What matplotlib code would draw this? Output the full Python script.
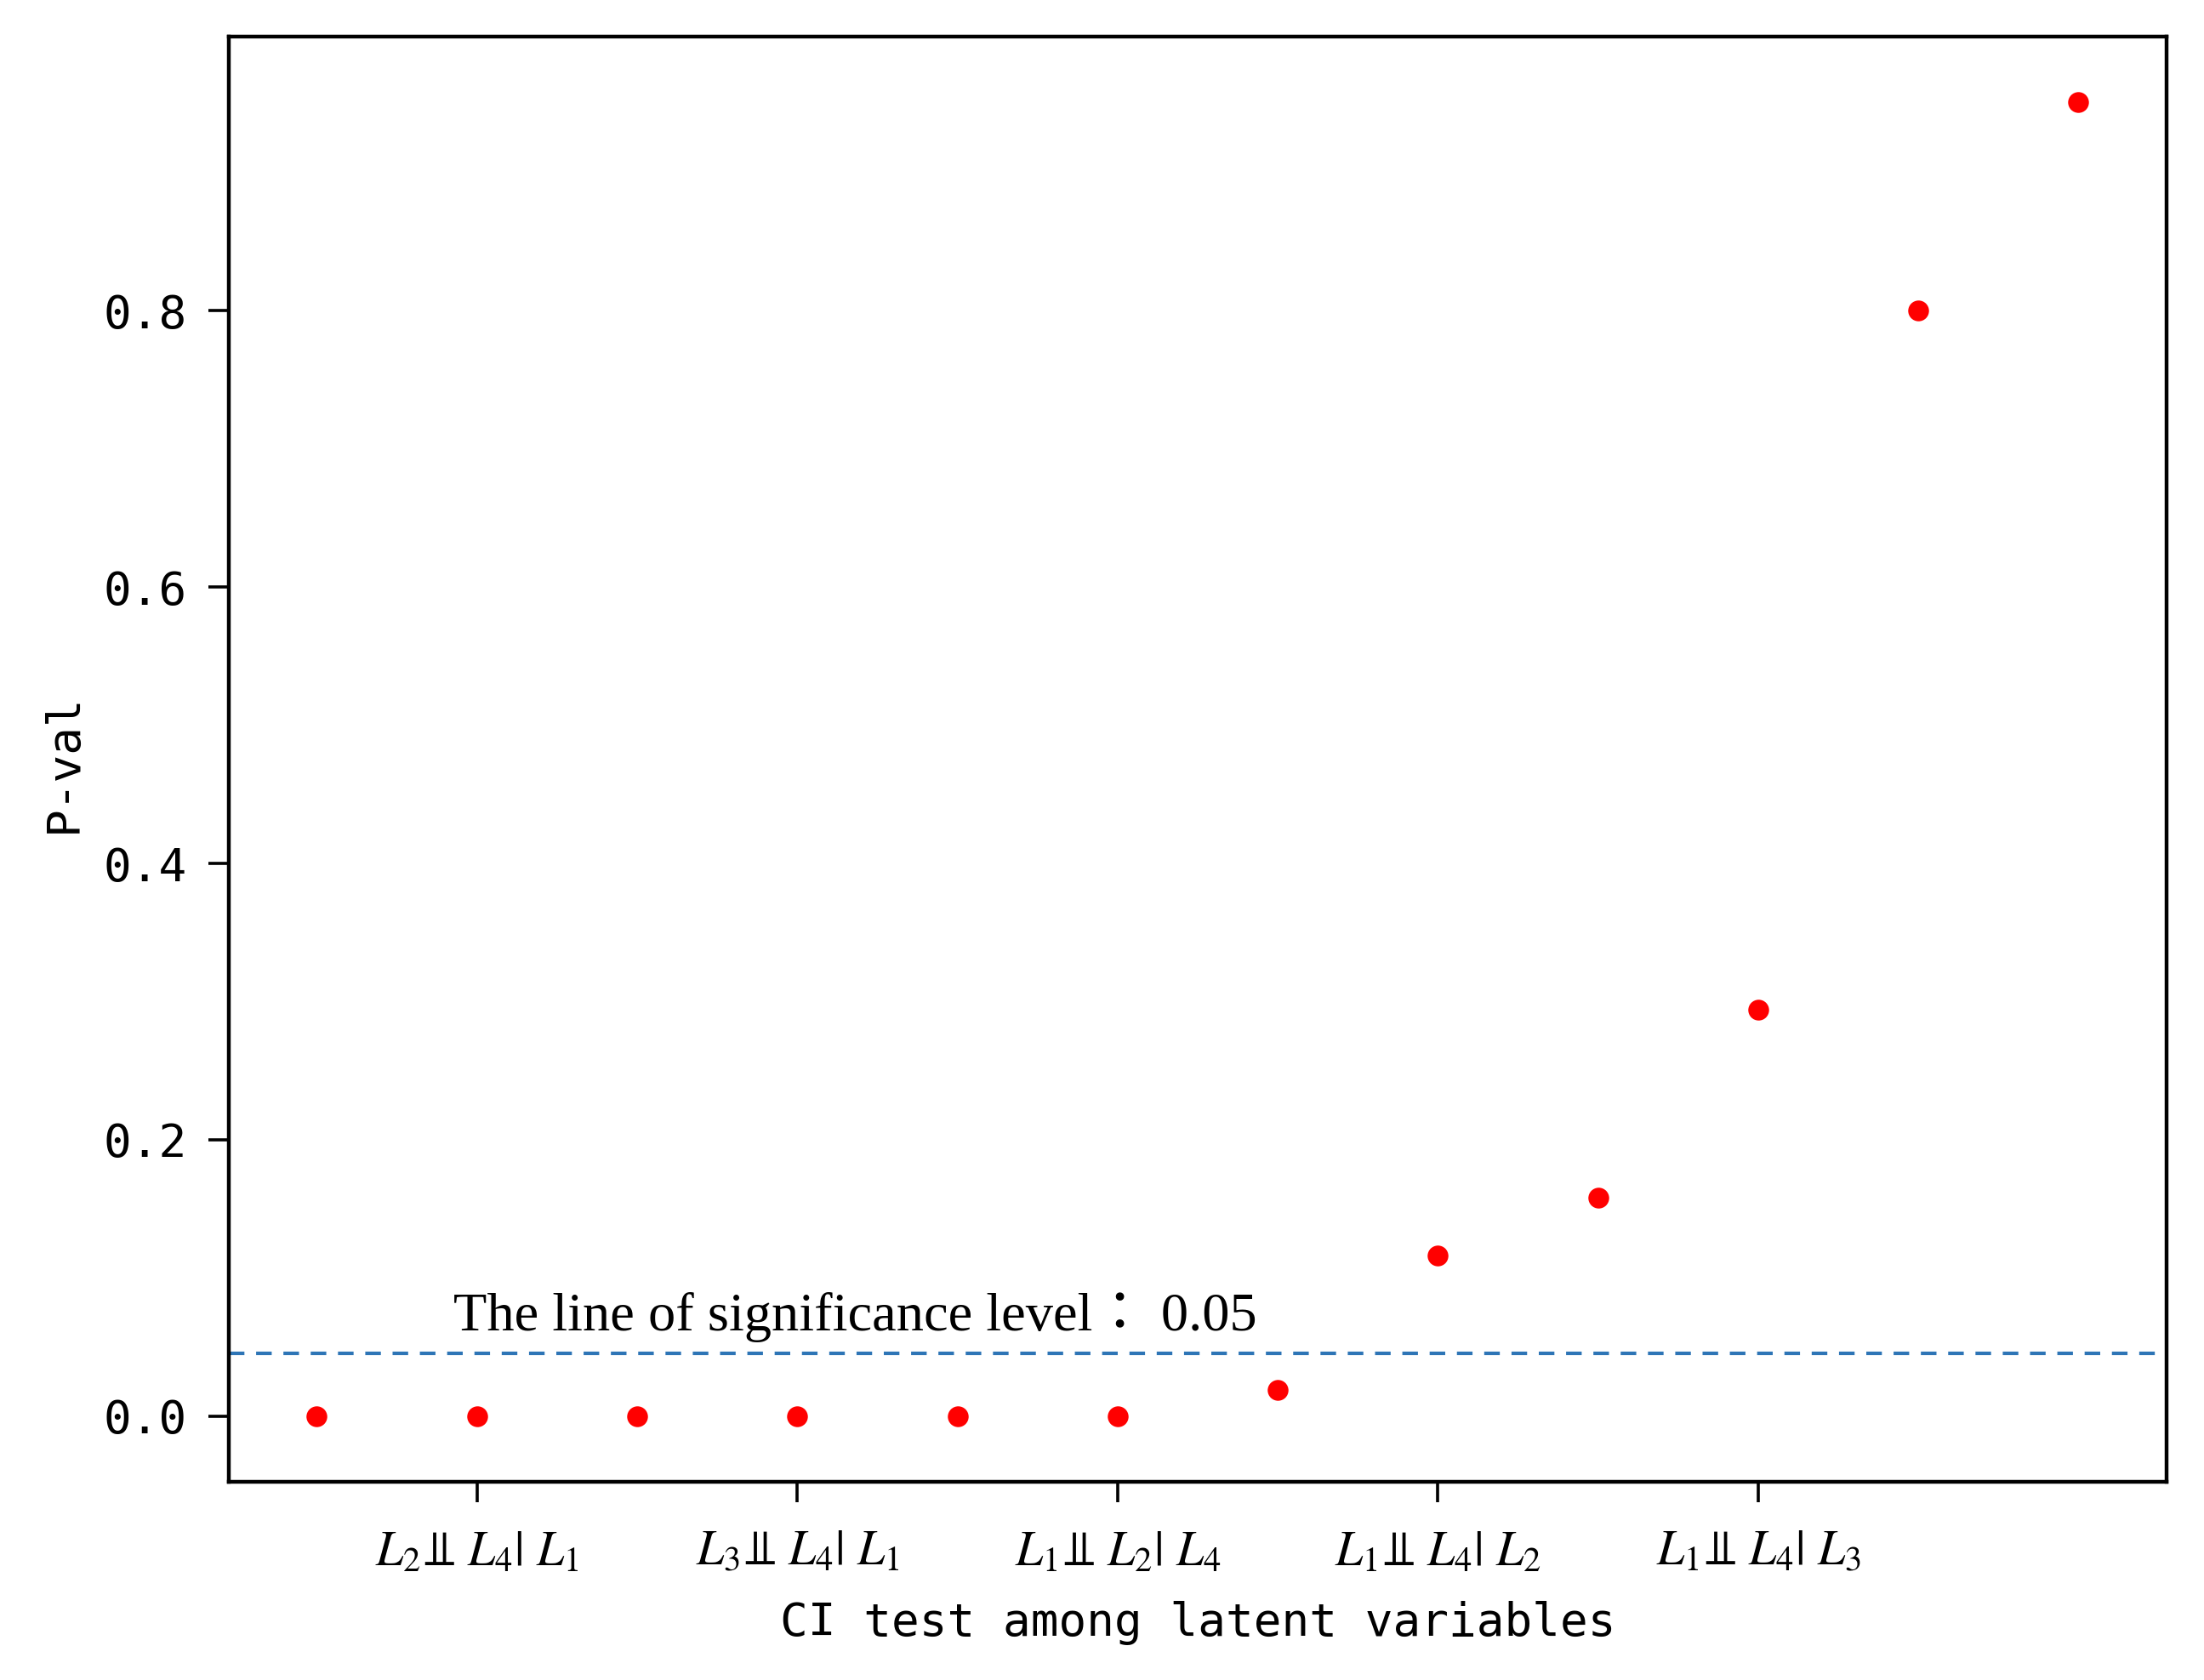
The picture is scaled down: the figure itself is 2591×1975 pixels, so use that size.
import matplotlib
matplotlib.use("Agg")
import matplotlib.pyplot as plt

# ---- data ----
test_index = [0, 1, 2, 3, 4, 5, 6, 7, 8, 9, 10, 11]
p_values = [0.0, 0.0, 0.0, 0.0, 0.0, 0.0, 0.019, 0.116, 0.158, 0.294, 0.800, 0.951]
tick_positions = [1, 3, 5, 7, 9]
tick_labels = [
    r'$L_2⫫\ L_4|\ L_1$',
    r'$L_3⫫\ L_4|\ L_1$',
    r'$L_1⫫\ L_2|\ L_4$',
    r'$L_1⫫\ L_4|\ L_2$',
    r'$L_1⫫\ L_4|\ L_3$',
]
y_ticks = [0.0, 0.2, 0.4, 0.6, 0.8]
sig_level = 0.0456
sig_text = 'The line of significance level： 0.05'
xlabel = 'CI test among latent variables'
ylabel = 'P-val'

plt.rcParams['mathtext.fontset'] = 'stix'
mono = ['DejaVu Sans Mono']

fig = plt.figure(figsize=(2591 / 200, 1975 / 200), dpi=200)
ax = fig.add_axes([0.1038, 0.118, 0.8792, 0.8603])

ax.plot(test_index, p_values, linestyle='none', marker='o', markersize=8.8,
        color='#FF0000', markeredgewidth=0)
ax.axhline(sig_level, color='#2E75B6', linewidth=1.5, dashes=(4.4, 3.3))
ax.text(0.852, 0.0622, sig_text, fontsize=23.2,
        family=['Liberation Serif', 'Noto Sans CJK TC'], ha='left', va='baseline')

ax.set_xticks(tick_positions)
ax.set_xticklabels(tick_labels, fontsize=20.8)
ax.set_yticks(y_ticks)
ax.set_yticklabels(['%.1f' % v for v in y_ticks], family=mono, fontsize=19.6)

ax.tick_params(axis='both', length=8.6, width=1.3, color='black')
ax.tick_params(axis='x', pad=10.5)
ax.tick_params(axis='y', pad=9)

for s in ax.spines.values():
    s.set_linewidth(1.6)

ax.set_xlabel(xlabel, family=mono, fontsize=19.6)
ax.xaxis.label.set_va('baseline')
ax.xaxis.set_label_coords(0.5, -0.1065)
ax.set_ylabel(ylabel, family=mono, fontsize=19.6)
ax.yaxis.set_label_coords(-0.074, 0.497)

fig.savefig('out.png', dpi=200)
